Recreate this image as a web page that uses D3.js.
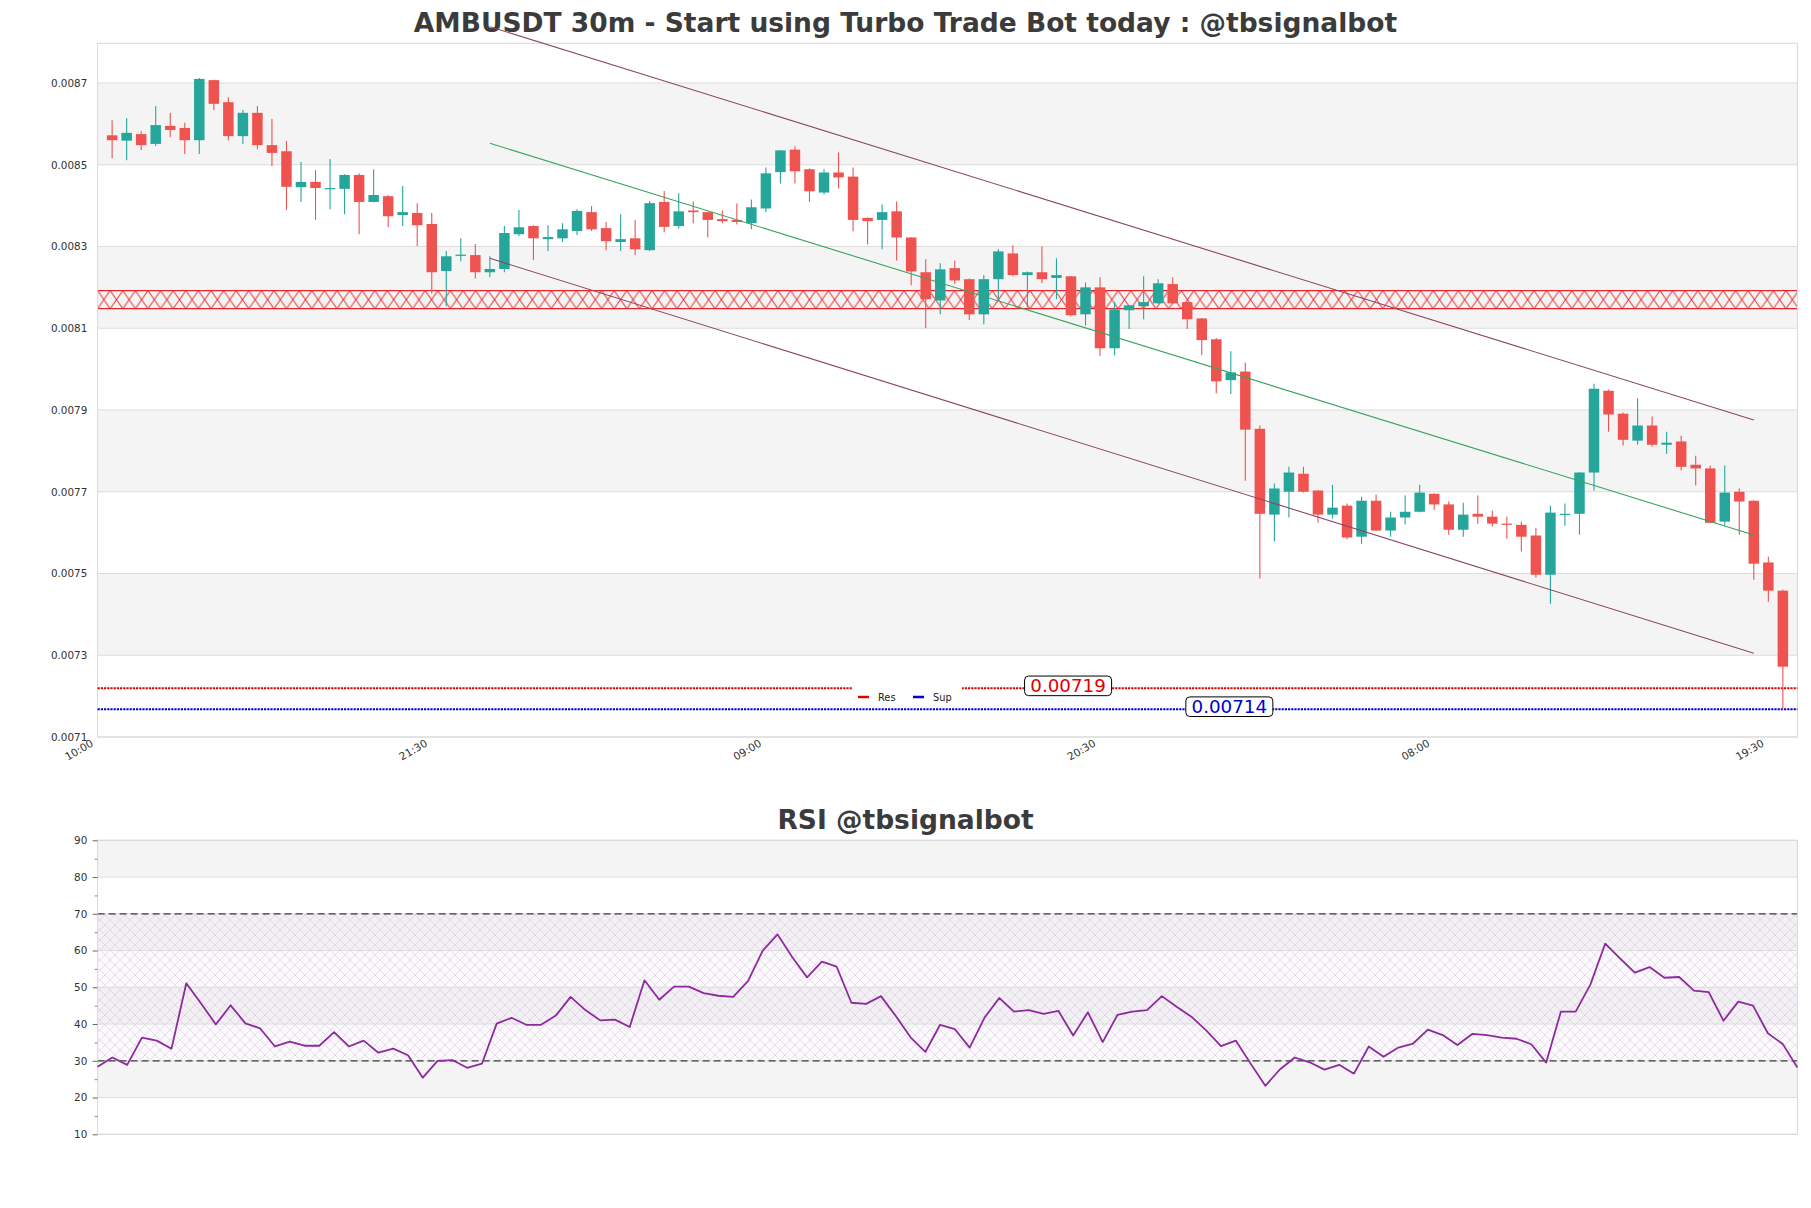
<!DOCTYPE html>
<html><head><meta charset="utf-8">
<script src="https://cdn.jsdelivr.net/npm/d3@7"></script>
<style>
body{margin:0;background:#fff}
text{font-family:"DejaVu Sans",sans-serif}
</style>
</head><body><div id="chart"></div>
<script>
// ---------- DATA ----------
const opens=[0.008572,0.008559,0.008575,0.008551,0.008595,0.008590,0.008560,0.008707,0.008653,0.008570,
0.008627,0.008548,0.008533,0.008445,0.008458,0.008441,0.008441,0.008475,0.008409,0.008423,
0.008377,0.008382,0.008355,0.008240,0.008277,0.008279,0.008237,0.008245,0.008330,0.008350,
0.008318,0.008320,0.008338,0.008384,0.008345,0.008311,0.008320,0.008291,0.008409,0.008350,
0.008388,0.008384,0.008367,0.008365,0.008357,0.008393,0.008482,0.008537,0.008489,0.008432,
0.008481,0.008471,0.008370,0.008365,0.008386,0.008322,0.008237,0.008168,0.008247,0.008220,
0.008134,0.008220,0.008283,0.008230,0.008237,0.008223,0.008227,0.008134,0.008200,0.008051,
0.008144,0.008154,0.008161,0.008208,0.008164,0.008124,0.008073,0.007973,0.007994,0.007854,
0.007644,0.007700,0.007744,0.007703,0.007644,0.007666,0.007590,0.007678,0.007605,0.007637,
0.007651,0.007695,0.007669,0.007607,0.007646,0.007639,0.007622,0.007619,0.007593,0.007497,
0.007644,0.007646,0.007747,0.007947,0.007891,0.007825,0.007862,0.007815,0.007823,0.007766,
0.007757,0.007627,0.007700,0.007678,0.007527,0.007458];
const highs=[0.008609,0.008614,0.008582,0.008644,0.008627,0.008603,0.008712,0.008708,0.008665,0.008634,
0.008644,0.008612,0.008558,0.008507,0.008487,0.008514,0.008477,0.008479,0.008489,0.008426,
0.008448,0.008406,0.008382,0.008289,0.008320,0.008306,0.008276,0.008350,0.008389,0.008352,
0.008352,0.008357,0.008391,0.008399,0.008360,0.008379,0.008365,0.008411,0.008436,0.008430,
0.008410,0.008385,0.008388,0.008405,0.008415,0.008493,0.008536,0.008545,0.008491,0.008489,
0.008530,0.008493,0.008371,0.008403,0.008410,0.008323,0.008269,0.008259,0.008266,0.008222,
0.008230,0.008293,0.008303,0.008239,0.008300,0.008271,0.008228,0.008212,0.008225,0.008164,
0.008157,0.008227,0.008220,0.008225,0.008165,0.008125,0.008076,0.008044,0.008016,0.007862,
0.007720,0.007761,0.007761,0.007704,0.007717,0.007671,0.007688,0.007693,0.007651,0.007691,
0.007717,0.007696,0.007676,0.007673,0.007691,0.007654,0.007639,0.007627,0.007612,0.007666,
0.007671,0.007748,0.007964,0.007950,0.007894,0.007928,0.007884,0.007847,0.007837,0.007788,
0.007764,0.007764,0.007708,0.007679,0.007541,0.007461];
const lows=[0.008516,0.008511,0.008536,0.008546,0.008567,0.008526,0.008526,0.008634,0.008559,0.008551,
0.008538,0.008497,0.008389,0.008409,0.008365,0.008391,0.008379,0.008330,0.008408,0.008347,
0.008350,0.008301,0.008185,0.008154,0.008264,0.008222,0.008225,0.008237,0.008325,0.008267,
0.008289,0.008311,0.008328,0.008338,0.008291,0.008289,0.008279,0.008289,0.008335,0.008344,
0.008357,0.008322,0.008357,0.008354,0.008342,0.008384,0.008454,0.008454,0.008409,0.008427,
0.008442,0.008337,0.008305,0.008293,0.008266,0.008205,0.008100,0.008134,0.008208,0.008120,
0.008110,0.008173,0.008227,0.008151,0.008210,0.008171,0.008129,0.008107,0.008032,0.008034,
0.008098,0.008122,0.008160,0.008159,0.008098,0.008034,0.007941,0.007939,0.007727,0.007488,
0.007578,0.007637,0.007698,0.007624,0.007634,0.007583,0.007573,0.007604,0.007590,0.007620,
0.007650,0.007656,0.007595,0.007590,0.007622,0.007615,0.007585,0.007554,0.007490,0.007426,
0.007617,0.007595,0.007703,0.007847,0.007813,0.007815,0.007810,0.007793,0.007752,0.007715,
0.007623,0.007617,0.007595,0.007485,0.007431,0.007167];
const closes=[0.008560,0.008578,0.008548,0.008597,0.008585,0.008560,0.008710,0.008649,0.008570,0.008627,
0.008548,0.008529,0.008446,0.008458,0.008443,0.008443,0.008475,0.008409,0.008426,0.008374,
0.008384,0.008352,0.008237,0.008276,0.008280,0.008237,0.008245,0.008333,0.008347,0.008320,
0.008323,0.008342,0.008387,0.008342,0.008313,0.008318,0.008293,0.008406,0.008348,0.008386,
0.008384,0.008365,0.008362,0.008360,0.008396,0.008479,0.008535,0.008484,0.008435,0.008481,
0.008469,0.008365,0.008362,0.008384,0.008322,0.008239,0.008171,0.008244,0.008217,0.008134,
0.008220,0.008288,0.008230,0.008237,0.008220,0.008230,0.008132,0.008200,0.008051,0.008146,
0.008156,0.008164,0.008210,0.008161,0.008122,0.008071,0.007970,0.007992,0.007852,0.007646,
0.007708,0.007747,0.007700,0.007644,0.007661,0.007588,0.007678,0.007605,0.007637,0.007651,
0.007698,0.007669,0.007607,0.007644,0.007639,0.007622,0.007620,0.007590,0.007497,0.007649,
0.007646,0.007747,0.007952,0.007889,0.007827,0.007862,0.007815,0.007820,0.007761,0.007757,
0.007624,0.007698,0.007676,0.007524,0.007458,0.007272];
const rsiValues=[28.4,30.9,28.9,36.3,35.5,33.3,51.1,45.6,39.9,45.1,
40.2,38.8,33.9,35.2,34.1,34.1,37.8,33.9,35.5,32.2,
33.3,31.5,25.4,30.0,30.2,28.1,29.2,40.1,41.7,39.8,
39.8,42.3,47.4,43.8,41.0,41.2,39.2,51.9,46.6,50.2,
50.2,48.4,47.7,47.4,51.7,60.0,64.4,58.2,52.7,57.0,
55.6,45.8,45.5,47.6,42.2,36.4,32.4,39.8,38.6,33.6,
41.7,47.1,43.4,43.8,42.8,43.6,36.9,43.2,35.1,42.5,
43.4,43.8,47.6,44.7,42.0,38.3,34.0,35.5,29.3,23.2,
27.7,30.9,29.6,27.6,28.9,26.5,33.9,31.1,33.6,34.7,
38.5,37.0,34.3,37.3,37.0,36.3,36.0,34.5,29.5,43.4,
43.4,50.8,61.9,57.9,54.0,55.5,52.6,52.8,49.1,48.7,
40.9,46.1,45.0,37.5,34.6,28.2];
const xTickIndex=[-1,22,45,68,91,114];
const xTickLabels=["10:00","21:30","09:00","20:30","08:00","19:30"];
const priceTicks=[0.0071,0.0073,0.0075,0.0077,0.0079,0.0081,0.0083,0.0085,0.0087];
const rsiTicks=[10,20,30,40,50,60,70,80,90];
const rsiMinorTicks=[15,25,35,45,55,65,75,85];
const resistance=0.007219, support=0.007168;
const resLabel="0.00719", supLabel="0.00714";
const zoneLo=0.008148, zoneHi=0.008192;
const channelIdx=[26,113];
const channelUpper=[0.0088377,0.0078755];
const channelMid=[0.0085525,0.0075942];
const channelLower=[0.0082711,0.0073048];
const mainTitle="AMBUSDT 30m - Start using Turbo Trade Bot today : @tbsignalbot";
const rsiTitle="RSI @tbsignalbot";

// ---------- LAYOUT ----------
const W=1811,H=1208;
const M={l:97.6,r:1797.4,t:43.3,b:737};
const R={t:840.3,b:1134.3};
const UP="#26a69a",DN="#ef5350";
const svg=d3.select("#chart").append("svg").attr("width",W).attr("height",H)
  .style("background","#fff");
const defs=svg.append("defs");

const x=d3.scaleLinear().domain([-1,116]).range([M.l,M.r]);
const y=d3.scaleLinear().domain([0.0071,0.0087971]).range([M.b,M.t]);

// title
svg.append("text").attr("x",W/2).attr("y",32.3).attr("text-anchor","middle")
  .attr("font-size",26.5).attr("font-weight","bold").attr("fill","#3b3b3b").text(mainTitle);

// bands
const main=svg.append("g");
for(let i=1;i<priceTicks.length-1;i+=2){
  main.append("rect").attr("x",M.l).attr("width",M.r-M.l)
    .attr("y",y(priceTicks[i+1])).attr("height",y(priceTicks[i])-y(priceTicks[i+1]))
    .attr("fill","#f4f4f4");
}
main.selectAll(".grid").data(priceTicks).join("line")
  .attr("x1",M.l).attr("x2",M.r).attr("y1",d=>y(d)).attr("y2",d=>y(d))
  .attr("stroke","#dcdcdc").attr("stroke-width",1);

// zone hatch
const zt=y(zoneHi), zb=y(zoneLo), zh=zb-zt, zw=12.6;
const pat=defs.append("pattern").attr("id","zoneHatch").attr("patternUnits","userSpaceOnUse")
  .attr("x",M.l).attr("y",zt).attr("width",zw).attr("height",zh);
pat.append("path").attr("d",`M0,0L${zw},${zh}M${zw},0L0,${zh}`)
  .attr("stroke","#e8262a").attr("stroke-width",1).attr("fill","none");
main.append("rect").attr("x",M.l).attr("width",M.r-M.l).attr("y",zt).attr("height",zh)
  .attr("fill","url(#zoneHatch)");
[zt,zb].forEach(v=>main.append("line").attr("x1",M.l).attr("x2",M.r).attr("y1",v).attr("y2",v)
  .attr("stroke","#e8262a").attr("stroke-width",1.2));

// border
main.append("rect").attr("x",M.l).attr("y",M.t).attr("width",M.r-M.l).attr("height",M.b-M.t)
  .attr("fill","none").attr("stroke","#d9d9d9");

// y axis
const yAxis=svg.append("g").attr("transform",`translate(${M.l},0)`)
  .call(d3.axisLeft(y).tickValues(priceTicks).tickSize(0).tickPadding(10.3).tickFormat(d3.format(".4f")));
yAxis.select(".domain").remove();
yAxis.selectAll("text").attr("font-size",10.4).attr("fill","#333").style("font-family","DejaVu Sans");

// x axis
const xAxis=svg.append("g").attr("transform",`translate(0,${M.b})`)
  .call(d3.axisBottom(x).tickValues(xTickIndex).tickSize(0).tickFormat((d,i)=>xTickLabels[i]));
xAxis.select(".domain").remove();
xAxis.selectAll("text").attr("y",0).attr("dy",null).attr("x",0)
  .attr("transform","translate(-4,8.5) rotate(-30)").style("text-anchor","end")
  .attr("font-size",10.6).attr("fill","#333").style("font-family","DejaVu Sans");

// res / sup lines
main.append("line").attr("x1",M.l).attr("x2",M.r).attr("y1",y(resistance)).attr("y2",y(resistance))
  .attr("stroke","#e00000").attr("stroke-width",2).attr("stroke-dasharray","2.2,1");
main.append("line").attr("x1",M.l).attr("x2",M.r).attr("y1",y(support)).attr("y2",y(support))
  .attr("stroke","#0000d0").attr("stroke-width",2).attr("stroke-dasharray","2.2,1");

// candles
const idx=d3.range(opens.length);
const bw=10.5;
const cg=svg.append("g");
cg.selectAll(".wick").data(idx).join("line")
  .attr("x1",i=>x(i)).attr("x2",i=>x(i)).attr("y1",i=>y(highs[i])).attr("y2",i=>y(lows[i]))
  .attr("stroke",i=>closes[i]>=opens[i]?UP:DN).attr("stroke-width",1.1);
cg.selectAll(".body").data(idx).join("rect")
  .attr("x",i=>x(i)-bw/2).attr("width",bw)
  .attr("y",i=>y(Math.max(opens[i],closes[i])))
  .attr("height",i=>Math.max(1.2,Math.abs(y(opens[i])-y(closes[i]))))
  .attr("fill",i=>closes[i]>=opens[i]?UP:DN);

// channel lines
const line2=(a)=>d3.line()([[x(channelIdx[0]),y(a[0])],[x(channelIdx[1]),y(a[1])]]);
svg.append("path").attr("d",line2(channelUpper)).attr("stroke","#8a4766").attr("stroke-width",1.1).attr("fill","none");
svg.append("path").attr("d",line2(channelLower)).attr("stroke","#8a4766").attr("stroke-width",1.1).attr("fill","none");
svg.append("path").attr("d",line2(channelMid)).attr("stroke","#3aa35c").attr("stroke-width",1.1).attr("fill","none");

// legend
const lg=svg.append("g");
lg.append("rect").attr("x",852).attr("y",683).attr("width",110).attr("height",22).attr("fill","#fff");
lg.append("line").attr("x1",858).attr("x2",869).attr("y1",697).attr("y2",697).attr("stroke","#e00000").attr("stroke-width",2.5);
lg.append("text").attr("x",878).attr("y",700.5).attr("font-size",9.8).attr("fill","#222").text("Res");
lg.append("line").attr("x1",913).attr("x2",924).attr("y1",697).attr("y2",697).attr("stroke","#0000d0").attr("stroke-width",2.5);
lg.append("text").attr("x",933).attr("y",700.5).attr("font-size",9.8).attr("fill","#222").text("Sup");

// value labels
function valueLabel(idxPos,val,txt,color){
  const cx=x(idxPos), cy=y(val)-2.5;
  const g=svg.append("g");
  g.append("rect").attr("x",cx-43.5).attr("y",cy-9.8).attr("width",87).attr("height",19.6)
    .attr("rx",4).attr("fill","#fff").attr("stroke","#000").attr("stroke-width",1);
  g.append("text").attr("x",cx).attr("y",cy+6.6).attr("text-anchor","middle")
    .attr("font-size",18.3).attr("fill",color).text(txt);
}
valueLabel(65.8,resistance,resLabel,"#e00000");
valueLabel(76.9,support,supLabel,"#0000d0");

// ---------- RSI ----------
const xr=d3.scaleLinear().domain([0,rsiValues.length-1]).range([M.l,M.r]);
const yr=d3.scaleLinear().domain([10,90]).range([R.b,R.t]);
svg.append("text").attr("x",W/2).attr("y",829.3).attr("text-anchor","middle")
  .attr("font-size",26.5).attr("font-weight","bold").attr("fill","#3b3b3b").text(rsiTitle);
const rg=svg.append("g");
for(let i=1;i<rsiTicks.length-1;i+=2){
  rg.append("rect").attr("x",M.l).attr("width",M.r-M.l)
    .attr("y",yr(rsiTicks[i+1])).attr("height",yr(rsiTicks[i])-yr(rsiTicks[i+1])).attr("fill","#f4f4f4");
}
const rp=defs.append("pattern").attr("id","rsiHatch").attr("patternUnits","userSpaceOnUse")
  .attr("width",10).attr("height",10);
rp.append("path").attr("d","M0,0L10,10M10,0L0,10").attr("stroke","#b9a3c8").attr("stroke-width",0.6)
  .attr("opacity",0.6).attr("fill","none");
rg.append("rect").attr("x",M.l).attr("width",M.r-M.l).attr("y",yr(70)).attr("height",yr(30)-yr(70))
  .attr("fill","url(#rsiHatch)");
rg.append("rect").attr("x",M.l).attr("width",M.r-M.l).attr("y",yr(70)).attr("height",yr(30)-yr(70))
  .attr("fill","#e8dcf0").attr("opacity",0.18);
rg.selectAll(".rgrid").data(rsiTicks).join("line")
  .attr("x1",M.l).attr("x2",M.r).attr("y1",d=>yr(d)).attr("y2",d=>yr(d)).attr("stroke","#dcdcdc");
[30,70].forEach(v=>rg.append("line").attr("x1",M.l).attr("x2",M.r).attr("y1",yr(v)).attr("y2",yr(v))
  .attr("stroke","#3a3a3a").attr("stroke-width",1.2).attr("stroke-dasharray","7,4"));
rg.append("rect").attr("x",M.l).attr("y",R.t).attr("width",M.r-M.l).attr("height",R.b-R.t)
  .attr("fill","none").attr("stroke","#d9d9d9");
rg.append("path").datum(rsiValues)
  .attr("d",d3.line().x((d,i)=>xr(i)).y(d=>yr(d)))
  .attr("fill","none").attr("stroke","#8e2a9e").attr("stroke-width",1.8).attr("stroke-linejoin","round");

const ra=svg.append("g").attr("transform",`translate(${M.l},0)`)
  .call(d3.axisLeft(yr).tickValues(rsiTicks).tickSize(5).tickPadding(5.3));
ra.select(".domain").remove();
ra.selectAll("line").attr("stroke","#666");
ra.selectAll("text").attr("font-size",10.4).attr("fill","#333").style("font-family","DejaVu Sans");
const rm=svg.append("g").attr("transform",`translate(${M.l},0)`)
  .call(d3.axisLeft(yr).tickValues(rsiMinorTicks).tickSize(3).tickFormat(""));
rm.select(".domain").remove();
rm.selectAll("line").attr("stroke","#888");
</script>
</body></html>
